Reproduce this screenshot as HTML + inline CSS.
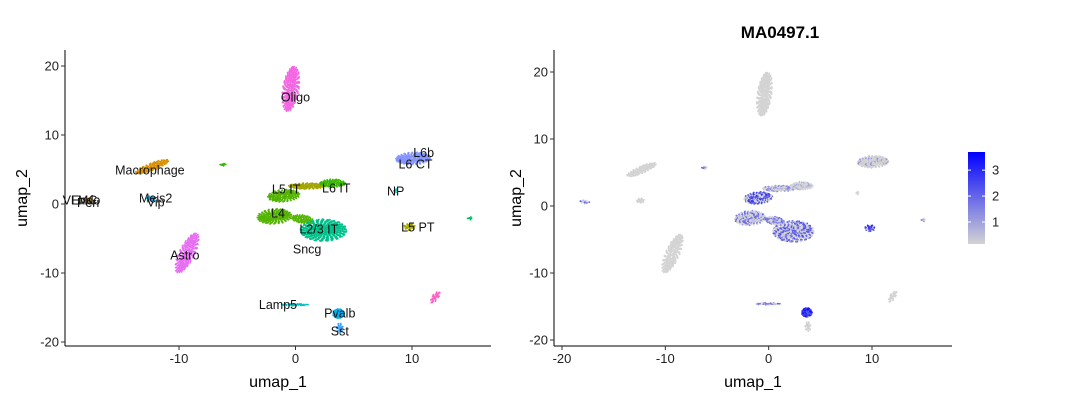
<!DOCTYPE html>
<html><head><meta charset="utf-8"><style>
body{margin:0;background:#fff;}
svg{display:block;font-family:"Liberation Sans",sans-serif;}
</style></head><body>
<svg id="s" width="1080" height="404"></svg>
<script>
// cluster data (umap coords)
const clusterNames=["Oligo","Macrophage","Small1","Endo","Meis2","Astro","L5 IT","L6 IT","L4","L4b","L4c","L2/3 IT","L6 CT","NP","L5 PT","Small2","Small3","Lamp5","Pvalb","Sst"];
const clusterX=[-0.4,-12.3,-6.2,-17.8,-12.4,-9.3,1.0,3.2,-1.8,-1.0,0.6,2.4,10.1,8.6,9.8,15.0,12.0,-0.1,3.7,3.8];
const clusterY=[16.7,5.4,5.7,0.6,0.8,-7.1,2.6,3.0,-1.8,1.2,-2.2,-3.8,6.6,1.9,-3.3,-2.1,-13.5,-14.6,-15.9,-18.0];
const clusterRX=[0.7,0.5,0.3,0.5,0.4,0.7,1.6,1.1,1.5,1.4,1.0,2.0,1.5,0.2,0.5,0.25,0.3,1.2,0.5,0.3];
const clusterRY=[3.3,1.7,0.2,0.3,0.4,3.0,0.45,0.6,1.1,0.9,0.6,1.6,0.9,0.3,0.5,0.25,0.9,0.15,0.7,0.8];
const clusterRot=[-5,-55,0,-15,0,-15,0,0,10,10,-20,0,5,0,0,0,-20,0,0,0];
const clusterN=[420,160,12,20,30,320,180,120,300,220,100,560,300,6,40,8,40,50,100,30];
const clusterColor=["#F564E3","#D89000","#39B600","#D39200","#00A9FF","#E76BF3","#A3A500","#39B600","#53B400","#53B400","#53B400","#00C08B","#8494FF","#00BFC4","#A3A500","#00BD5C","#FF61C3","#00BFC4","#00B0F6","#35A2FF"];
const clusterExpr=[0,0,2,2.5,0,0,1.5,0.8,2.2,3.0,2.0,2.6,1.2,0.5,3.2,1.5,0,2.2,3.7,0.3];
const clusterFrac=[0,0,0.7,0.5,0,0,0.4,0.3,0.4,0.6,0.5,0.5,0.25,0,0.85,0.5,0,0.6,0.95,0.1];
const labelText=["Oligo","Macrophage","Endo","VLMC","Peri","Meis2","Vip","Astro","L5 IT","L6 IT","L4","L2/3 IT","Sncg","L6b","L6 CT","NP","L5 PT","Lamp5","Pvalb","Sst"];
const labelX=[0,-12.5,-18,-18.5,-17.8,-12,-12,-9.5,-0.8,3.5,-1.5,2,1,11,10.3,8.6,10.5,-1.5,3.8,3.8];
const labelY=[15.5,4.9,0.6,0.6,0.2,0.9,0.3,-7.4,2.2,2.3,-1.3,-3.6,-6.5,7.5,5.8,1.9,-3.3,-14.6,-15.8,-18.4];
const leftXTicks=[-10,0,10], leftYTicks=[20,10,0,-10,-20];
const rightXTicks=[-20,-10,0,10], rightYTicks=[20,10,0,-10,-20];
const legendTicks=[1,2,3];

const NS="http://www.w3.org/2000/svg", S=document.getElementById('s');
function el(t,a,p){const e=document.createElementNS(NS,t);for(const k in a)e.setAttribute(k,a[k]);(p||S).appendChild(e);return e;}
function mkScale(d0,d1,r0,r1){return v=>r0+(v-d0)*(r1-r0)/(d1-d0);}
function mix(v){const t=Math.max(0,Math.min(1,v/3.7));const r=Math.round(211*(1-t)),g=Math.round(211*(1-t)),b=Math.round(211+(255-211)*t);return `rgb(${r},${g},${b})`;}
function frac(v){return v-Math.floor(v);}

function panel(name,sx,sy,ax0,ax1,ay0,ay1,xt,yt,feature,tx){
  const g=el('g',{});
  
  
  const pts=el('g',{},g);
  
  
  for(let c=0;c<clusterNames.length;c++){
    const rot=clusterRot[c]*Math.PI/180,n=clusterN[c];
    for(let i=0;i<n;i++){
      const r=Math.sqrt(frac(0.5+i*0.7548776662)),a=2*Math.PI*frac(0.5+i*0.5698402910);
      const u=r*Math.cos(a)*clusterRX[c],w=r*Math.sin(a)*clusterRY[c];
      const x=clusterX[c]+u*Math.cos(rot)-w*Math.sin(rot),y=clusterY[c]+u*Math.sin(rot)+w*Math.cos(rot);
      let col=clusterColor[c];
      if(feature){const on=frac(i*0.618034)<clusterFrac[c];col=on?mix(clusterExpr[c]*(0.55+0.45*frac(i*0.4142))):'#D3D3D3';}
      el('circle',{cx:sx(x).toFixed(1),cy:sy(y).toFixed(1),r:0.9,fill:col},pts);
    }
  }
  el('line',{x1:ax0,y1:ay1,x2:ax0,y2:ay0,stroke:'#000','stroke-width':1},g);
  el('line',{x1:ax0,y1:ay1,x2:ax1,y2:ay1,stroke:'#000','stroke-width':1},g);
  xt.forEach(v=>{el('line',{x1:sx(v),x2:sx(v),y1:ay1,y2:ay1+4,stroke:'#333'},g);
    const t=el('text',{x:sx(v),y:ay1+17,'text-anchor':'middle','font-size':13,fill:'#222'},g);t.textContent=v;
    });
  yt.forEach(v=>{el('line',{x1:ax0-4,x2:ax0,y1:sy(v),y2:sy(v),stroke:'#333'},g);
    const t=el('text',{x:ax0-6,y:sy(v)+4.5,'text-anchor':'end','font-size':13,fill:'#222'},g);t.textContent=v;
    });
  const xtl=el('text',{x:(ax0+ax1)/2,y:387,'text-anchor':'middle','font-size':16,fill:'#000'},g);xtl.textContent='umap_1';
  
  const cy=(ay0+ay1)/2;
  const ytl=el('text',{x:tx,y:cy,'text-anchor':'middle','font-size':16,fill:'#000',transform:`rotate(-90 ${tx} ${cy})`},g);ytl.textContent='umap_2';
  
  return g;
}
// left panel
const lx=mkScale(-10,10,179,412), ly=mkScale(-20,20,342,66);
const L=panel('cluster-umap',lx,ly,65,491,50,346,leftXTicks,leftYTicks,false,27);
labelText.forEach((t,i)=>{const e=el('text',{x:lx(labelX[i]),y:ly(labelY[i])+4.5,'text-anchor':'middle','font-size':12.5,fill:'#111'},L);e.textContent=t;
  });
// right panel
const rx=mkScale(-20,10,562,872), ry=mkScale(-20,20,340,72);
panel('feature-umap',rx,ry,554,952,50,346,rightXTicks,rightYTicks,true,521);
const title=el('text',{x:780,y:38,'text-anchor':'middle','font-size':17,'font-weight':'bold',fill:'#000'});title.textContent='MA0497.1';

// legend
const defs=el('defs',{});const lg=el('linearGradient',{id:'gr',x1:0,y1:1,x2:0,y2:0},defs);
el('stop',{offset:0,'stop-color':'#D3D3D3'},lg);el('stop',{offset:1,'stop-color':'#0000FF'},lg);
const leg=el('g',{});
el('rect',{x:968,y:152,width:17,height:92,fill:'url(#gr)'},leg);
const lv=mkScale(0.15,3.7,244,152);
legendTicks.forEach(v=>{el('line',{x1:968,x2:971,y1:lv(v),y2:lv(v),stroke:'#fff'},leg);el('line',{x1:982,x2:985,y1:lv(v),y2:lv(v),stroke:'#fff'},leg);
  const t=el('text',{x:992,y:lv(v)+4.5,'font-size':13,fill:'#222'},leg);t.textContent=v;
  });
</script>
</body></html>
